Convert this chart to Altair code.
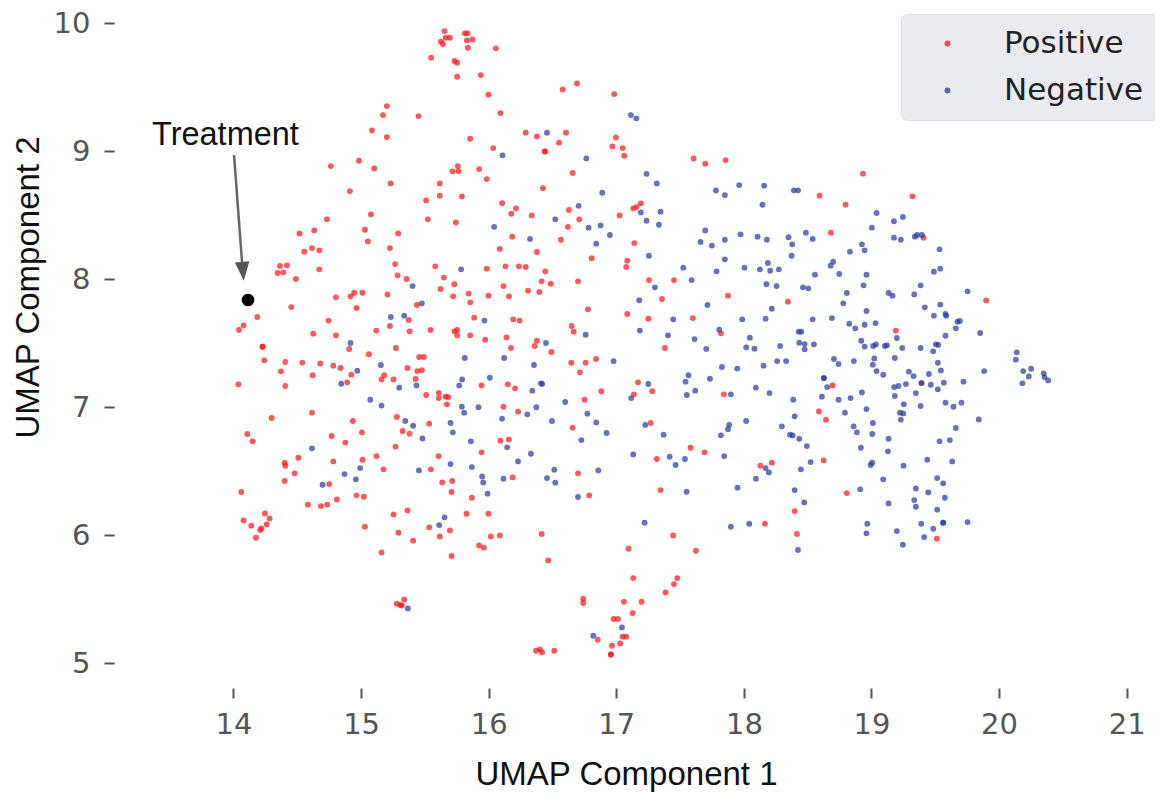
import altair as alt
import pandas as pd

pos_points = [
(15.654,9.937),(15.664,9.885),(15.696,9.885),(15.625,9.854),(15.641,9.836),(15.813,9.919),(15.834,9.919),(15.829,9.864),(15.873,9.872),(15.837,9.807),
(16.056,9.802),(15.549,9.729),(15.732,9.703),(15.753,9.690),(15.753,9.580),(15.938,9.593),(15.998,9.440),(16.092,9.296),(15.202,9.351),(15.171,9.281),
(15.450,9.273),(15.085,9.161),(15.202,9.109),(15.855,9.096),(16.035,9.023),(14.983,8.924),(14.763,8.882),(15.103,8.864),(15.758,8.882),(15.716,8.841),
(15.763,8.843),(15.925,8.859),(15.985,8.781),(15.231,8.747),(15.617,8.747),(14.912,8.687),(15.617,8.651),(15.790,8.645),(15.510,8.614),(16.105,8.593),
(15.077,8.505),(14.732,8.466),(15.523,8.466),(15.743,8.442),(14.633,8.380),(14.518,8.356),(15.030,8.385),(15.291,8.356),
(15.053,8.294),(15.226,8.242),(16.087,8.235),(14.555,8.214),(14.615,8.242),(14.672,8.224),(15.267,8.117),(15.581,8.099),(14.364,8.102),(14.419,8.107),
(14.346,8.047),(14.390,8.052),(14.672,8.076),(15.985,8.081),(16.132,8.099),(14.489,8.000),(15.286,8.029),(15.356,8.000),(15.649,8.011),(15.730,7.959),
(16.116,7.945),(15.622,7.922),(15.842,7.886),(15.998,7.870),(16.158,7.865),(15.722,7.865),(14.803,7.857),(14.917,7.865),(14.946,7.893),(15.011,7.893),
(15.207,7.880),(15.855,7.818),(15.437,7.797),(14.453,7.781),(14.964,7.774),(14.186,7.703),(15.886,7.698),(14.745,7.675),(14.079,7.638),(14.043,7.602),
(15.374,7.680),(15.226,7.633),(15.119,7.597),(15.380,7.591),(15.544,7.602),(15.753,7.602),(15.732,7.591),(15.753,7.560),(15.855,7.560),(15.972,7.526),
(16.139,7.544),(14.625,7.573),(14.803,7.560),(15.273,7.461),(14.907,7.453),(14.228,7.471),(14.228,7.471),(15.061,7.412),(15.455,7.391),(15.492,7.391),
(14.241,7.365),(14.406,7.352),(14.539,7.347),(14.680,7.341),(14.782,7.323),(14.839,7.305),(14.372,7.279),(14.620,7.248),(14.923,7.253),(15.364,7.305),
(15.440,7.281),(15.476,7.287),(15.427,7.219),(15.181,7.248),(15.160,7.216),(15.254,7.216),(14.891,7.193),(14.038,7.177),(14.406,7.164),(15.944,7.169),
(16.150,7.177),(15.510,7.094),(15.609,7.110),(15.609,7.070),(15.662,7.081),(15.683,7.078),(15.672,7.021),(16.116,7.003),(14.615,6.956),(14.299,6.914),
(15.280,6.922),(14.936,6.891),(15.534,6.870),(15.325,6.813),(15.006,6.802),(15.380,6.792),(14.108,6.789),(14.769,6.774),(16.092,6.737),(16.158,6.747),
(14.150,6.732),(14.876,6.722),
(15.270,6.690),(14.508,6.604),(15.121,6.617),(15.607,6.617),(15.944,6.646),(14.401,6.565),(14.406,6.541),(14.782,6.575),(15.011,6.588),(15.176,6.513),
(15.547,6.513),(14.479,6.482),(14.401,6.422),(14.750,6.398),(15.636,6.411),(15.714,6.422),(15.709,6.336),(14.061,6.336),(14.964,6.310),(15.022,6.299),
(14.810,6.278),(15.868,6.291),(14.583,6.237),(14.685,6.226),(14.735,6.237),(15.364,6.192),(15.254,6.161),(15.826,6.166),(15.998,6.166),(14.246,6.169),
(14.283,6.130),(14.079,6.114),(14.139,6.073),(14.260,6.083),(14.218,6.052),(14.210,6.039),(14.176,5.979),(15.030,6.065),(15.534,6.060),(15.696,6.036),
(15.293,6.018),(15.617,5.989),(16.017,5.989),(16.087,5.997),(15.408,5.956),(15.925,5.919),(15.962,5.901),(15.160,5.864),(15.709,5.836),(15.338,5.497),
(15.280,5.463),(15.307,5.453),(15.320,5.450),
(16.692,9.528),(16.580,9.481),(16.984,9.445),(16.290,9.143),(16.378,9.114),(16.606,9.143),(16.997,9.106),(16.551,9.065),(16.441,8.997),(16.441,8.997),
(16.969,9.036),(17.050,9.023),(17.063,8.963),(17.606,8.942),(17.697,8.901),(17.856,8.929),(16.658,8.828),(16.425,8.710),(16.214,8.552),(16.177,8.510),
(16.337,8.497),(16.629,8.539),(16.710,8.466),(16.621,8.408),(17.133,8.552),(17.159,8.562),(17.193,8.591),(17.026,8.497),
(16.185,8.331),(16.566,8.307),(17.141,8.281),(16.378,8.211),(16.807,8.162),(17.086,8.143),(17.078,8.094),(16.237,8.099),(16.290,8.094),(16.444,8.060),
(16.415,7.982),(16.486,7.964),(16.700,7.982),(17.256,7.992),(17.452,7.992),(16.308,7.909),(16.397,7.899),(17.358,7.844),(17.875,7.870),(18.345,7.823),
(16.778,7.763),(17.086,7.727),(17.251,7.690),(17.600,7.695),(16.193,7.685),(16.243,7.675),(16.650,7.633),(16.666,7.589),(17.820,7.576),(16.378,7.518),
(16.360,7.477),(16.175,7.461),(16.491,7.430),(17.381,7.461),(16.841,7.375),(16.647,7.346),(16.760,7.346),(16.715,7.271),(17.170,7.193),(16.206,7.146),
(17.282,7.123),(16.882,7.123),(17.138,7.099),(17.843,7.099),(16.752,7.057),(16.230,6.964),(16.658,6.839),(17.269,6.875),
(17.582,6.682),(17.692,6.646),(17.318,6.594),(18.130,6.541),(18.219,6.565),(16.188,6.450),(16.700,6.482),(17.347,6.351),(16.788,6.310),(18.164,6.088),
(16.415,6.008),(17.446,5.997),(17.096,5.893),(17.624,5.877),(16.467,5.802),(17.133,5.664),(17.478,5.664),(17.452,5.617),(17.386,5.552),(16.741,5.502),
(16.741,5.469),(17.060,5.479),(17.198,5.479),(17.128,5.390),(16.979,5.344),(17.013,5.344),(17.049,5.206),(17.078,5.206),(16.854,5.182),(17.031,5.153),
(16.966,5.135),(16.958,5.067),(16.958,5.067),(16.371,5.096),(16.402,5.107),(16.418,5.083),(16.514,5.096),
(18.933,8.823),(18.593,8.651),(18.797,8.581),(19.322,8.646),(18.682,8.362),(19.408,8.323),(19.899,7.833),(19.191,7.597),
(18.695,7.169),(19.392,7.187),(18.588,6.966),(18.643,6.901),(18.625,6.583),(18.807,6.328),(18.398,6.187),(18.416,6.008),(19.512,5.971),
]

neg_points = [
(16.108,8.966),(16.043,8.408),
(15.784,8.076),(15.403,7.945),(15.476,7.810),(15.233,7.703),(15.338,7.714),(15.967,7.675),(14.917,7.500),(15.813,7.383),(16.121,7.383),(15.155,7.328),
(14.970,7.284),(14.844,7.182),(15.792,7.216),(16.009,7.229),(15.769,7.169),(15.434,7.169),(15.299,7.151),(15.072,7.057),(15.160,7.011),(15.790,7.003),
(15.920,6.998),(15.808,6.956),(16.105,6.909),(15.346,6.891),(15.408,6.854),(15.701,6.875),(15.719,6.802),(15.481,6.755),(15.860,6.732),(16.145,6.685),(14.615,6.677),
(15.701,6.554),(15.868,6.531),(14.870,6.476),(14.993,6.523),(14.959,6.435),(14.698,6.393),(15.453,6.505),(15.949,6.458),(15.957,6.411),(16.116,6.440),
(15.991,6.323),(15.654,6.138),(15.612,6.078),(15.367,5.427),
(16.457,9.143),(17.115,9.281),(17.157,9.255),(16.765,8.942),(17.237,8.822),(17.318,8.747),(16.890,8.674),(16.705,8.572),(17.781,8.692),(17.851,8.656),
(17.963,8.734),(18.159,8.729),(18.146,8.580),(17.193,8.520),(17.347,8.526),(16.522,8.466),(17.237,8.455),(17.334,8.424),(16.877,8.419),(16.783,8.401),(17.697,8.380),
(16.324,8.313),(16.950,8.344),(16.843,8.276),(17.660,8.289),(17.749,8.261),(17.851,8.307),(17.974,8.349),(18.107,8.331),(18.180,8.307),(18.350,8.326),
(17.256,8.182),(17.851,8.154),(17.525,8.089),(17.786,8.060),(18.005,8.089),(18.125,8.076),(18.188,8.125),(18.206,8.065),(18.274,8.076),(17.590,7.992),
(17.303,7.935),(18.177,7.959),(18.256,7.945),(17.180,7.834),(17.715,7.797),(18.219,7.768),(17.446,7.685),(17.987,7.685),(18.170,7.690),(17.185,7.597),
(17.807,7.604),(17.405,7.560),(16.760,7.565),(17.613,7.531),(18.047,7.542),(16.449,7.500),(18.018,7.466),(18.083,7.456),(18.284,7.477),(17.705,7.453),
(16.355,7.328),(16.979,7.359),(18.261,7.359),(18.331,7.359),(18.154,7.323),(17.828,7.313),(17.948,7.300),(17.566,7.248),(17.543,7.198),(17.734,7.221),
(17.251,7.180),(16.410,7.185),(16.420,7.180),(16.342,7.128),(17.619,7.128),(18.094,7.151),(17.553,7.094),(17.898,7.099),(18.201,7.109),(17.117,7.070),
(16.600,7.039),(16.373,6.998),(16.303,6.943),(16.773,6.948),(16.496,6.891),(16.843,6.880),(17.227,6.860),(18.018,6.891),(17.885,6.860),(17.875,6.826),
(16.924,6.797),(17.371,6.784),(17.820,6.779),(18.298,6.849),(16.726,6.742),
(16.331,6.635),(16.230,6.575),(17.133,6.630),(16.514,6.510),(16.859,6.505),(16.457,6.445),(16.522,6.409),(16.700,6.297),(17.418,6.612),(17.465,6.547),
(17.538,6.594),(17.846,6.617),(18.170,6.523),(18.196,6.489),(18.094,6.440),(17.551,6.338),(17.950,6.370),(17.222,6.096),(17.898,6.065),(18.042,6.088),
(17.044,5.278),(16.820,5.213),
(18.392,8.693),(18.424,8.693),(19.040,8.516),(19.246,8.485),(19.176,8.451),(19.003,8.401),(18.486,8.362),(18.539,8.313),(19.176,8.323),(19.230,8.307),
(19.340,8.331),(19.358,8.344),(19.395,8.344),(18.379,8.271),(18.925,8.271),(18.946,8.224),(18.831,8.214),(19.533,8.232),(18.374,8.182),(18.700,8.135),
(18.680,8.104),(19.539,8.081),(19.489,8.057),(18.557,8.034),(18.747,8.039),(18.961,8.034),(18.938,7.951),(19.385,7.951),(18.463,7.935),(18.505,7.927),
(18.807,7.891),(19.134,7.891),(19.165,7.870),(19.335,7.880),(19.753,7.904),(18.779,7.810),(19.418,7.779),(19.539,7.800),(18.961,7.750),(19.489,7.714),
(19.580,7.727),(19.586,7.714),(18.539,7.685),(18.690,7.695),(18.826,7.651),(18.873,7.615),(18.946,7.643),(19.032,7.656),(19.674,7.667),(19.693,7.672),
(19.661,7.615),(19.852,7.578),(19.580,7.557),(18.429,7.589),(18.450,7.589),(19.199,7.539),(18.920,7.518),(18.434,7.503),(18.476,7.492),(18.476,7.451),
(18.549,7.490),(18.946,7.472),(19.014,7.477),(19.035,7.490),(19.105,7.477),(19.121,7.482),(19.241,7.461),(19.385,7.461),(19.484,7.435),(19.505,7.490),
(19.523,7.485),(20.139,7.427),(20.131,7.370),(18.706,7.375),(19.022,7.380),(19.183,7.383),(18.862,7.359),
(18.742,7.336),(19.011,7.331),(19.520,7.346),(19.040,7.281),(19.092,7.252),(19.293,7.276),(19.330,7.242),(19.450,7.258),(19.544,7.286),(19.883,7.281),
(20.189,7.281),(20.251,7.299),(20.233,7.239),(20.183,7.185),(20.350,7.263),(20.356,7.234),(20.385,7.208),(18.627,7.226),(18.627,7.226),(18.653,7.156),
(19.270,7.179),(19.178,7.156),(19.212,7.164),(19.392,7.187),(19.465,7.174),(19.567,7.190),(19.721,7.198),(19.520,7.138),(18.925,7.114),(19.348,7.109),
(19.183,7.086),(18.612,7.081),(18.836,7.070),(18.742,7.057),(18.387,7.057),(19.254,7.021),(19.385,7.008),(19.580,7.034),(19.643,7.002),(19.705,7.034),
(18.961,6.984),(18.792,6.956),(19.223,6.956),(19.249,6.950),(19.230,6.901),(19.841,6.903),(18.398,6.927),(19.011,6.875),(18.860,6.849),(19.661,6.836),
(18.886,6.802),(19.006,6.789),(18.361,6.784),(18.382,6.778),(18.434,6.752),(19.134,6.752),(19.533,6.732),(19.614,6.742),(18.494,6.695),(18.917,6.682),
(19.129,6.654),(19.437,6.588),(19.633,6.575),(18.523,6.570),(18.447,6.513),(19.006,6.565),(18.993,6.547),(19.251,6.542),(19.515,6.445),(19.562,6.404),
(19.092,6.435),(19.348,6.364),(19.445,6.333),(18.912,6.357),(18.398,6.351),(19.575,6.291),(19.335,6.273),(19.348,6.221),(19.134,6.247),(18.473,6.255),
(19.515,6.198),(18.967,6.088),(19.390,6.088),(19.562,6.096),(19.562,6.096),(19.753,6.101),(18.961,6.013),(19.199,6.031),(19.484,6.049),(19.413,5.984),
(19.246,5.924),(18.424,5.883),
]

treatment = [(14.114, 7.836)]
annotation_text = [(13.937, 9.125, "Treatment")]
arrow_shaft = [(14.004, 8.969, 14.067, 8.133)]
arrow_head = [(14.074, 8.06)]

x_domain = [13.0635, 21.222]
y_domain = [4.805, 10.1016]
x_ticks = [14, 15, 16, 17, 18, 19, 20, 21]
y_ticks = [5, 6, 7, 8, 9, 10]

RED = "#ff0f14"
BLUE = "#2238a0"
GREY = "#555555"

rows = [{"x": a, "y": b, "group": "Positive"} for a, b in pos_points] + \
       [{"x": a, "y": b, "group": "Negative"} for a, b in neg_points]
df = pd.DataFrame(rows)

x_scale = alt.Scale(domain=x_domain, nice=False, zero=False)
y_scale = alt.Scale(domain=y_domain, nice=False, zero=False)

x_axis = alt.Axis(
    title="UMAP Component 1", values=x_ticks, format="d", grid=False, domain=False,
    tickSize=10, tickWidth=2, tickColor=GREY, labelColor=GREY, labelFontSize=29,
    labelFont="DejaVu Sans", labelPadding=12, labelFlush=False,
    titleFont="Liberation Sans", titleFontSize=33, titleFontWeight="normal",
    titleColor="#111111", titleX=512, titleY=96, titleBaseline="alphabetic", titleAlign="center",
)
y_axis = alt.Axis(
    title="UMAP Component 2", values=y_ticks, format="d", grid=False, domain=False,
    tickSize=10, tickWidth=2, tickColor=GREY, labelColor=GREY, labelFontSize=29,
    labelFont="DejaVu Sans", labelPadding=14, labelFlush=False,
    titleFont="Liberation Sans", titleFontSize=33, titleFontWeight="normal",
    titleColor="#111111", titleX=-76, titleY=277, titleBaseline="alphabetic", titleAlign="center",
)

legend = alt.Legend(
    title=None, orient="none", legendX=787, legendY=4,
    fillColor="#eaebef", strokeColor="#dcdde0", cornerRadius=6, padding=14,
    labelFont="DejaVu Sans", labelFontSize=31, labelColor="#222222", labelOffset=41,
    symbolSize=34, symbolOpacity=0.75, symbolStrokeWidth=0, symbolType="circle", symbolOffset=17,
    rowPadding=15,
)

points = alt.Chart(df).mark_circle(size=34, opacity=0.7).encode(
    x=alt.X("x:Q", scale=x_scale, axis=x_axis),
    y=alt.Y("y:Q", scale=y_scale, axis=y_axis),
    color=alt.Color("group:N", scale=alt.Scale(domain=["Positive", "Negative"], range=[RED, BLUE]), legend=legend),
)

treat_df = pd.DataFrame(treatment, columns=["x", "y"])
treat = alt.Chart(treat_df).mark_circle(size=160, color="black", opacity=1).encode(
    x=alt.X("x:Q", scale=x_scale), y=alt.Y("y:Q", scale=y_scale))

shaft_df = pd.DataFrame(arrow_shaft, columns=["x", "y", "x2", "y2"])
shaft = alt.Chart(shaft_df).mark_rule(color="#666666", strokeWidth=2.5).encode(
    x=alt.X("x:Q", scale=x_scale), y=alt.Y("y:Q", scale=y_scale), x2="x2:Q", y2="y2:Q")

head_df = pd.DataFrame(arrow_head, columns=["x", "y"])
head = alt.Chart(head_df).mark_point(
    shape="M -0.5 -0.65 L 0.5 -0.65 L 0 0.65 Z", size=840, filled=True, color="#555555",
    opacity=1, angle=355,
).encode(x=alt.X("x:Q", scale=x_scale), y=alt.Y("y:Q", scale=y_scale))

text_df = pd.DataFrame(annotation_text, columns=["x", "y", "label"])
text = alt.Chart(text_df).mark_text(
    font="Liberation Sans", fontSize=32.5, color="#111111", align="center", baseline="middle"
).encode(x=alt.X("x:Q", scale=x_scale), y=alt.Y("y:Q", scale=y_scale), text="label:N")

chart = alt.layer(points, treat, shaft, head, text).properties(
    width=1041, height=678,
    autosize=alt.AutoSizeParams(type="none"),
    padding={"left": 106, "top": 2, "right": 0, "bottom": 104},
    background="white",
).configure_view(stroke=None)

chart.save("out.html", embed_options={"renderer": "svg", "actions": False})
